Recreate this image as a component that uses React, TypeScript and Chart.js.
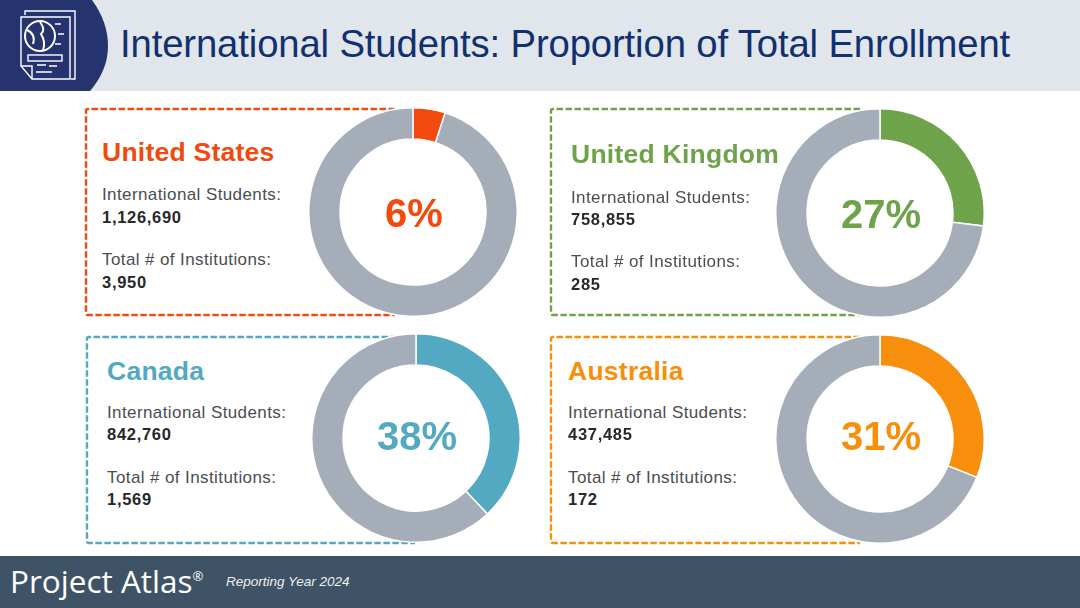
import React, { useEffect, useRef } from "react";
import { Chart, registerables } from "chart.js";

Chart.register(...registerables);

const countries = ["United States", "United Kingdom", "Canada", "Australia"];
const shares = [5, 27, 38, 31];
const shareLabels = ["6%", "27%", "38%", "31%"];
const students = ["1,126,690", "758,855", "842,760", "437,485"];
const institutions = ["3,950", "285", "1,569", "172"];
const colors = ["#f24a0c", "#6fa34b", "#53a9c2", "#f88f0c"];
const GREY = "#a4adb8";
const FONT = "'Liberation Sans', Arial, sans-serif";

const panels = [
  { l: 86, t: 109, r: 395, b: 315, cx: 413, cy: 212, ly: 213, tx: 102, ty: 152, a: 194, b1: 217, c: 259, d: 282 },
  { l: 551, t: 109, r: 860, b: 315, cx: 880, cy: 213, ly: 214, tx: 571, ty: 154, a: 197, b1: 219, c: 261, d: 284 },
  { l: 87, t: 337, r: 415, b: 543, cx: 416, cy: 438, ly: 436, tx: 107, ty: 371, a: 412, b1: 434, c: 477, d: 499 },
  { l: 551, t: 337, r: 860, b: 543, cx: 880, cy: 439, ly: 436, tx: 568, ty: 371, a: 412, b1: 434, c: 477, d: 499 },
];
const R = 104;

function Donut({ i }: { i: number }) {
  const ref = useRef<HTMLCanvasElement>(null);
  useEffect(() => {
    const chart = new Chart(ref.current!, {
      type: "doughnut",
      data: {
        labels: [countries[i], "Other"],
        datasets: [{
          data: [shares[i], 100 - shares[i]],
          backgroundColor: [colors[i], GREY],
          borderColor: "#ffffff",
          borderWidth: 1.5,
        }],
      },
      options: {
        animation: false,
        responsive: false,
        cutout: "70%",
        plugins: { legend: { display: false }, tooltip: { enabled: false } },
      },
    });
    return () => chart.destroy();
  }, [i]);
  const p = panels[i];
  const size = 2 * R + 2;
  return (
    <canvas
      ref={ref}
      width={size}
      height={size}
      style={{ position: "absolute", left: p.cx - size / 2, top: p.cy - size / 2, width: size, height: size }}
    />
  );
}

function Txt({ x, y, size, color, bold, children, center, style }: any) {
  return (
    <div
      style={{
        position: "absolute",
        left: x,
        top: y,
        transform: center ? "translate(-50%,-50%)" : "translateY(-50%)",
        fontSize: size,
        color,
        fontWeight: bold ? 700 : 400,
        whiteSpace: "nowrap",
        lineHeight: 1,
        ...style,
      }}
    >
      {children}
    </div>
  );
}

function Icon() {
  const s = { fill: "none", stroke: "#fff", strokeWidth: 1.4 };
  return (
    <svg width={80} height={80} viewBox="0 0 80 80" style={{ position: "absolute", left: 16, top: 6 }}>
      <path d="M9 9 L9 5 L59 5 L59 73 L55 73" {...s} />
      <path d="M5 11 L54 11 L54 73 L16 73 L5 60 Z" {...s} />
      <path d="M5 60 L16 60 L16 73" {...s} />
      <circle cx="24" cy="30" r="15" {...s} strokeWidth={2} />
      <path d="M11 24 Q20 28 17 38 M24 16 Q30 24 25 28 Q30 36 27 44" {...s} strokeWidth={2} />
      <path d="M39 18 H45 M42 28 H48 M39 38 H45" {...s} />
      <rect x="12" y="49" width="34" height="6" {...s} />
      <path d="M21 59 H30 M20 66 H36 M33 60 H41" {...s} />
    </svg>
  );
}

export default function App() {
  useEffect(() => {
    document.body.style.margin = "0";
    document.body.style.background = "#fff";
  }, []);
  return (
    <div style={{ position: "absolute", left: 0, top: 0, width: 1080, height: 608, overflow: "hidden", fontFamily: FONT, background: "#fff", filter: "blur(0.45px)" }}>
      <div style={{ position: "absolute", left: 0, top: 0, width: 1080, height: 91, background: "#e1e5ec" }} />
      <svg width={120} height={92} style={{ position: "absolute", left: 0, top: 0 }}>
        <path d="M0 0 H92 Q108 22 108 46 Q108 70 90 91 H0 Z" fill="#25336f" />
      </svg>
      <Icon />
      <Txt x={120} y={44} size={38.25} color="#10306f" style={{ letterSpacing: "-0.12px" }}>
        International Students: Proportion of Total Enrollment
      </Txt>

      <svg width={1080} height={608} style={{ position: "absolute", left: 0, top: 0 }}>
        {panels.map((p, i) => (
          <path
            key={i}
            d={`M${p.r} ${p.t} H${p.l + 2} Q${p.l} ${p.t} ${p.l} ${p.t + 2} V${p.b - 2} Q${p.l} ${p.b} ${p.l + 2} ${p.b} H${p.r}`}
            fill="none"
            stroke={colors[i]}
            strokeWidth={2.4}
            strokeDasharray="6.5 2.5"
          />
        ))}
      </svg>

      {panels.map((p, i) => (
        <React.Fragment key={i}>
          <Donut i={i} />
          <Txt x={p.cx + 1} y={p.ly} size={40} color={colors[i]} bold center>{shareLabels[i]}</Txt>
          <Txt x={p.tx} y={p.ty} size={26.5} color={colors[i]} bold style={{ letterSpacing: "0.25px" }}>{countries[i]}</Txt>
          <Txt x={p.tx} y={p.a} size={17} color="#4a4d52" style={{ letterSpacing: "0.4px" }}>International Students:</Txt>
          <Txt x={p.tx} y={p.b1} size={16.5} color="#26282c" bold style={{ letterSpacing: "0.7px" }}>{students[i]}</Txt>
          <Txt x={p.tx} y={p.c} size={17} color="#4a4d52" style={{ letterSpacing: "0.4px" }}>Total # of Institutions:</Txt>
          <Txt x={p.tx} y={p.d} size={16.5} color="#26282c" bold style={{ letterSpacing: "0.7px" }}>{institutions[i]}</Txt>
        </React.Fragment>
      ))}

      <div style={{ position: "absolute", left: 0, top: 556, width: 1080, height: 52, background: "#3e5365" }} />
      <Txt x={10} y={581} size={31.5} color="#fff" style={{ fontFamily: "'Open Sans', sans-serif" }}>
        Project Atlas<sup style={{ fontSize: 13, verticalAlign: 12 }}>®</sup>
      </Txt>
      <Txt x={226} y={582} size={13.5} color="#f0f0f0" style={{ fontStyle: "italic" }}>Reporting Year 2024</Txt>
    </div>
  );
}
